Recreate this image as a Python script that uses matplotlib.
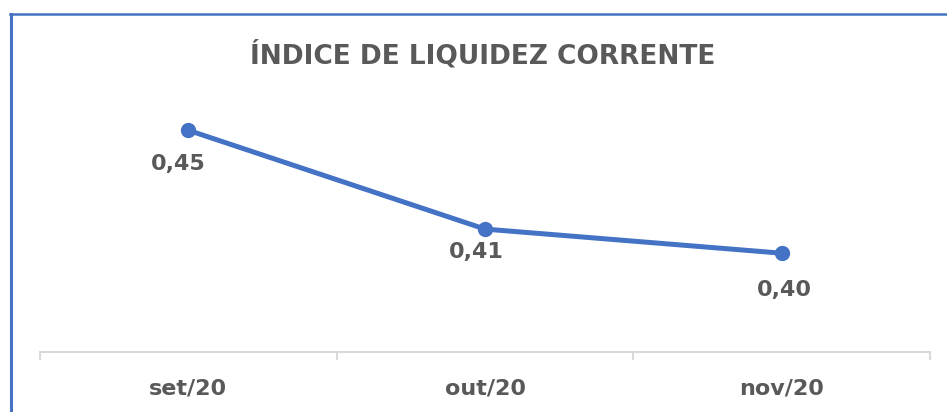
import matplotlib.pyplot as plt
from matplotlib.lines import Line2D

#   dados do grafico
meses = ['set/20', 'out/20', 'nov/20']
liquidez = [0.452, 0.411, 0.401]
rotulos = ['0,45', '0,41', '0,40']

AZUL = '#4472C4'
CINZA = '#595959'

#   deslocamento dos rotulos em pixels (dx, dy)
desloc = [(-10, -34), (-9, -23), (3, -37)]

fig = plt.figure(figsize=(9.47, 4.12), dpi=100)
ax = fig.add_axes([40 / 947, 60 / 412, 890 / 947, 241 / 412])

x = list(range(len(meses)))
ax.plot(x, liquidez, '-o', color=AZUL, linewidth=3.6, markersize=10)

for i, v in enumerate(liquidez):
	dx, dy = desloc[i]
	ax.annotate(rotulos[i], (i, v), xytext=(dx * 0.72, dy * 0.72), textcoords='offset points',
		ha='center', va='center', fontsize=16, fontweight='bold', color=CINZA)

ax.set_xlim(-0.5, 2.5)
ax.set_ylim(0.36, 0.46)
ax.set_yticks([])
ax.set_xticks(x)
ax.set_xticklabels(meses, fontsize=16, fontweight='bold', color=CINZA)
ax.tick_params(axis='x', which='major', length=0, pad=19)
ax.set_xticks([-0.5, 0.5, 1.5, 2.5], minor=True)
ax.tick_params(axis='x', which='minor', length=6, width=1.5, color='#D9D9D9')

for s in ['top', 'right', 'left']:
	ax.spines[s].set_visible(False)
ax.spines['bottom'].set_color('#D9D9D9')
ax.spines['bottom'].set_linewidth(1.5)

fig.text(483 / 947, 1 - 55 / 412, 'ÍNDICE DE LIQUIDEZ CORRENTE', ha='center', va='center',
	fontsize=19, fontweight='bold', color=CINZA)

#   borda azul (esquerda e topo)
fig.add_artist(Line2D([11 / 947, 11 / 947], [0, 1 - 14 / 412], color=AZUL, linewidth=2.2, transform=fig.transFigure))
fig.add_artist(Line2D([10 / 947, 1], [1 - 14 / 412, 1 - 14 / 412], color=AZUL, linewidth=1.8, transform=fig.transFigure))

fig.savefig('out.png', dpi=100)
